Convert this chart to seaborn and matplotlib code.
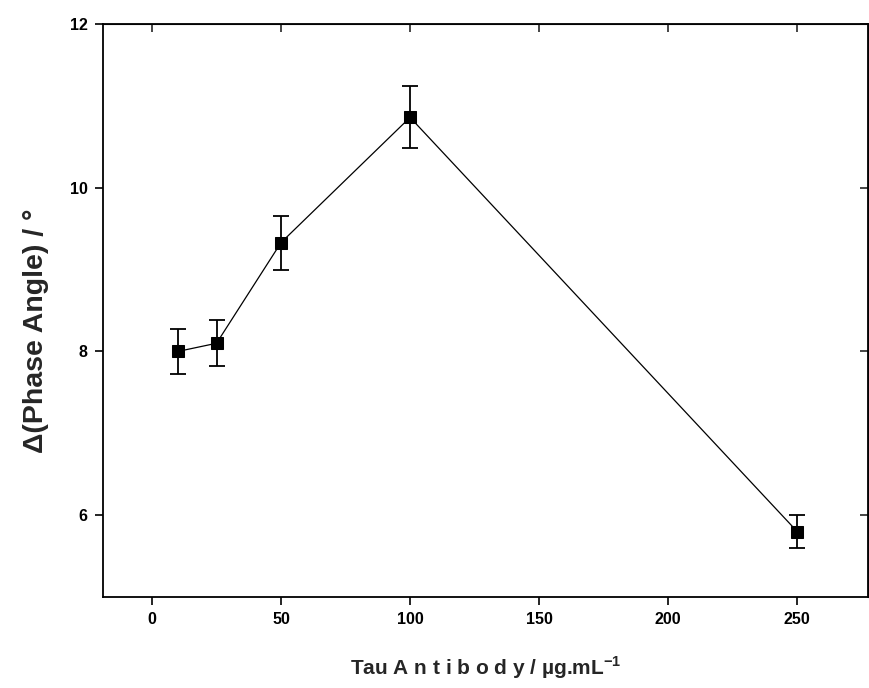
import matplotlib
matplotlib.use("Agg")
import matplotlib.pyplot as plt
import seaborn as sns
import pandas as pd

# Tau antibody concentration vs change in phase angle
concentration = [10, 25, 50, 100, 250]
delta_phase = [8.0, 8.1, 9.33, 10.86, 5.8]
error = [0.28, 0.28, 0.33, 0.38, 0.2]

x_ticks = [0, 50, 100, 150, 200, 250]
y_ticks = [6, 8, 10, 12]

df = pd.DataFrame({"conc": concentration, "phase": delta_phase, "err": error})

sns.set_style("ticks")
plt.rcParams["font.family"] = ["Liberation Sans", "DejaVu Sans"]
plt.rcParams["mathtext.fontset"] = "custom"
plt.rcParams["mathtext.bf"] = "Liberation Sans:bold"
plt.rcParams["mathtext.rm"] = "Liberation Sans"

fig = plt.figure(figsize=(8.69, 6.88), dpi=100)
ax = fig.add_axes([0.1185, 0.1323, 0.8805, 0.8327])

# error bars
ax.errorbar(df["conc"], df["phase"], yerr=df["err"], fmt="none",
            ecolor="black", elinewidth=1.3, capsize=6, capthick=1.3, zorder=2)
sns.lineplot(data=df, x="conc", y="phase", ax=ax, color="black", linewidth=0.9,
             marker="s", markersize=8, markeredgecolor="black",
             markerfacecolor="black", zorder=3)

ax.set_xlim(-19, 277.5)
ax.set_ylim(5, 12)
ax.set_xticks(x_ticks)
ax.set_yticks(y_ticks)

for side in ["top", "right", "left", "bottom"]:
    ax.spines[side].set_visible(True)
    ax.spines[side].set_linewidth(1.3)
    ax.spines[side].set_color("black")

ax.tick_params(axis="both", which="major", direction="out", length=6, width=1.2,
               labelsize=11.5, colors="black", pad=5)
for lab in ax.get_xticklabels() + ax.get_yticklabels():
    lab.set_fontweight("bold")

# mirrored inward ticks on top and right
top = ax.secondary_xaxis("top")
top.set_xticks(x_ticks)
top.tick_params(direction="in", length=6, width=1.2, labeltop=False)
right = ax.secondary_yaxis("right")
right.set_yticks(y_ticks)
right.tick_params(direction="in", length=6, width=1.2, labelright=False)

ax.set_xlabel("Tau A n t i b o d y / \u00b5g.mL$^{\\mathbf{-1}}$", fontsize=15,
              fontweight="bold")
ax.xaxis.set_label_coords(0.5, -0.1)
ax.set_ylabel("\u0394(Phase Angle) / \u00b0", fontsize=20.5, fontweight="bold")
ax.yaxis.set_label_coords(-0.07, 0.464)

fig.savefig("out.png", dpi=100)
